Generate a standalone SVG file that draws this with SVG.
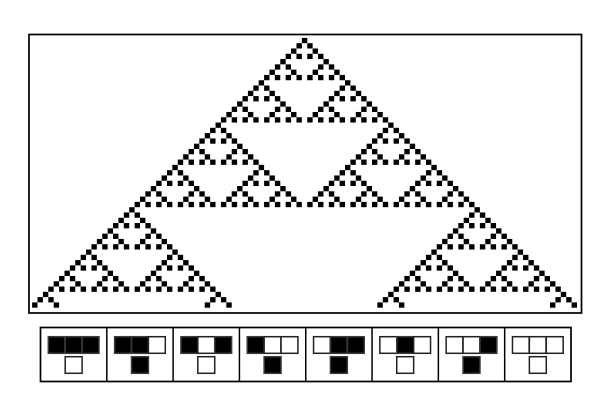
<svg xmlns="http://www.w3.org/2000/svg" xmlns:xlink="http://www.w3.org/1999/xlink" width="612" height="400" viewBox="0 0 612 400">
<style>
.frame{fill:#fff;stroke:#000;stroke-width:1.7}
.ca{fill:#000}
.b{fill:#000;stroke:#3a3a3a;stroke-width:1.5}
.w{fill:#fff;stroke:#222;stroke-width:1.5}
.div{stroke:#000;stroke-width:1.5}
</style>
<defs>
<rect id="c0" x="-0.5" y="0" width="1" height="1"/>
<g id="t1"><use href="#c0"/><use href="#c0" x="-1" y="1"/><use href="#c0" x="1" y="1"/></g>
<g id="t2"><use href="#t1"/><use href="#t1" x="-2" y="2"/><use href="#t1" x="2" y="2"/></g>
<g id="t3"><use href="#t2"/><use href="#t2" x="-4" y="4"/><use href="#t2" x="4" y="4"/></g>
<g id="t4"><use href="#t3"/><use href="#t3" x="-8" y="8"/><use href="#t3" x="8" y="8"/></g>
<g id="t5"><use href="#t4"/><use href="#t4" x="-16" y="16"/><use href="#t4" x="16" y="16"/></g>
<g id="p3"><use href="#t1"/><use href="#c0" x="-2" y="2"/><use href="#c0" x="2" y="2"/></g>
<g id="p19"><use href="#t4"/><use href="#p3" x="-16" y="16"/><use href="#p3" x="16" y="16"/></g>
</defs>
<rect class="frame" x="29" y="34.5" width="552.5" height="278.5"/>
<g id="automaton" class="ca" transform="translate(304.55,37.9) scale(5.395,5.29)">
<use href="#t5"/>
<use href="#p19" x="-32" y="32"/>
<use href="#p19" x="32" y="32"/>
</g>
<g id="legend">
<rect class="frame" x="40.5" y="327.5" width="530.5" height="54"/>
<g id="connectors">
<line class="div" x1="106.81" y1="327.5" x2="106.81" y2="381.5"/>
<line class="div" x1="173.12" y1="327.5" x2="173.12" y2="381.5"/>
<line class="div" x1="239.43" y1="327.5" x2="239.43" y2="381.5"/>
<line class="div" x1="305.74" y1="327.5" x2="305.74" y2="381.5"/>
<line class="div" x1="372.05" y1="327.5" x2="372.05" y2="381.5"/>
<line class="div" x1="438.36" y1="327.5" x2="438.36" y2="381.5"/>
<line class="div" x1="504.67" y1="327.5" x2="504.67" y2="381.5"/>
</g>
<g id="r111" transform="translate(40.5,0)">
<rect class="b" x="7.8" y="336.7" width="16.9" height="16.6"/><rect class="b" x="24.7" y="336.7" width="16.9" height="16.6"/><rect class="b" x="41.6" y="336.7" width="16.9" height="16.6"/>
<rect class="w" x="24.7" y="356.7" width="16.9" height="16.6"/>
</g>
<g id="r110" transform="translate(106.81,0)">
<rect class="b" x="7.8" y="336.7" width="16.9" height="16.6"/><rect class="b" x="24.7" y="336.7" width="16.9" height="16.6"/><rect class="w" x="41.6" y="336.7" width="16.9" height="16.6"/>
<rect class="b" x="24.7" y="356.7" width="16.9" height="16.6"/>
</g>
<g id="r101" transform="translate(173.12,0)">
<rect class="b" x="7.8" y="336.7" width="16.9" height="16.6"/><rect class="w" x="24.7" y="336.7" width="16.9" height="16.6"/><rect class="b" x="41.6" y="336.7" width="16.9" height="16.6"/>
<rect class="w" x="24.7" y="356.7" width="16.9" height="16.6"/>
</g>
<g id="r100" transform="translate(239.43,0)">
<rect class="b" x="7.8" y="336.7" width="16.9" height="16.6"/><rect class="w" x="24.7" y="336.7" width="16.9" height="16.6"/><rect class="w" x="41.6" y="336.7" width="16.9" height="16.6"/>
<rect class="b" x="24.7" y="356.7" width="16.9" height="16.6"/>
</g>
<g id="r011" transform="translate(305.74,0)">
<rect class="w" x="7.8" y="336.7" width="16.9" height="16.6"/><rect class="b" x="24.7" y="336.7" width="16.9" height="16.6"/><rect class="b" x="41.6" y="336.7" width="16.9" height="16.6"/>
<rect class="b" x="24.7" y="356.7" width="16.9" height="16.6"/>
</g>
<g id="r010" transform="translate(372.05,0)">
<rect class="w" x="7.8" y="336.7" width="16.9" height="16.6"/><rect class="b" x="24.7" y="336.7" width="16.9" height="16.6"/><rect class="w" x="41.6" y="336.7" width="16.9" height="16.6"/>
<rect class="w" x="24.7" y="356.7" width="16.9" height="16.6"/>
</g>
<g id="r001" transform="translate(438.36,0)">
<rect class="w" x="7.8" y="336.7" width="16.9" height="16.6"/><rect class="w" x="24.7" y="336.7" width="16.9" height="16.6"/><rect class="b" x="41.6" y="336.7" width="16.9" height="16.6"/>
<rect class="b" x="24.7" y="356.7" width="16.9" height="16.6"/>
</g>
<g id="r000" transform="translate(504.67,0)">
<rect class="w" x="7.8" y="336.7" width="16.9" height="16.6"/><rect class="w" x="24.7" y="336.7" width="16.9" height="16.6"/><rect class="w" x="41.6" y="336.7" width="16.9" height="16.6"/>
<rect class="w" x="24.7" y="356.7" width="16.9" height="16.6"/>
</g>
</g>
</svg>
